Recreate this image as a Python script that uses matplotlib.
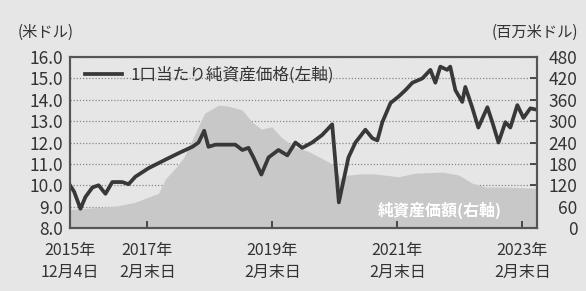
import matplotlib
matplotlib.use("Agg")
import matplotlib.pyplot as plt
import numpy as np
import pandas as pd

plt.rcParams['font.family'] = ['Noto Sans CJK JP', 'DejaVu Sans']

# 1口当たり純資産価格 (米ドル, 左軸)
price_dates = [
    "2015-12-04", "2015-12-28", "2016-02-03", "2016-03-03", "2016-04-13", "2016-05-19",
    "2016-06-28", "2016-08-07", "2016-10-04", "2016-11-10", "2016-12-20", "2017-03-07",
    "2017-06-14", "2017-08-29", "2017-11-18", "2017-12-24", "2018-01-26", "2018-02-20",
    "2018-04-02", "2018-05-30", "2018-07-27", "2018-09-06", "2018-10-12", "2018-11-10",
    "2018-12-26", "2019-02-06", "2019-04-05", "2019-05-27", "2019-07-13", "2019-08-22",
    "2019-10-19", "2019-12-16", "2020-02-13", "2020-03-23", "2020-05-18", "2020-06-28",
    "2020-08-25", "2020-10-05", "2020-11-03", "2020-12-02", "2021-01-19", "2021-03-07",
    "2021-04-16", "2021-05-27", "2021-07-24", "2021-09-09", "2021-10-08", "2021-11-06",
    "2021-12-16", "2022-01-03", "2022-02-02", "2022-03-14", "2022-04-01", "2022-05-11",
    "2022-06-16", "2022-08-08", "2022-09-06", "2022-10-12", "2022-11-21", "2022-12-20",
    "2023-01-30", "2023-03-07", "2023-04-16", "2023-05-15",
]
price_vals = [
    10.0, 9.7, 8.9, 9.45, 9.9, 10.0,
    9.6, 10.15, 10.15, 10.05, 10.4, 10.8,
    11.2, 11.5, 11.8, 12.0, 12.55, 11.8,
    11.9, 11.9, 11.9, 11.65, 11.75, 11.3,
    10.5, 11.3, 11.65, 11.4, 12.0, 11.75,
    12.0, 12.35, 12.85, 9.2, 11.3, 12.0,
    12.6, 12.2, 12.1, 12.95, 13.85, 14.15,
    14.45, 14.8, 15.0, 15.4, 14.8, 15.55,
    15.4, 15.55, 14.45, 13.9, 14.6, 13.65,
    12.7, 13.65, 12.95, 12.0, 12.95, 12.7,
    13.75, 13.15, 13.6, 13.55,
]

# 純資産価額 (百万米ドル, 右軸)
asset_dates = [
    "2015-12-04", "2016-05-24", "2016-09-04", "2016-12-18", "2017-05-05", "2017-06-14",
    "2017-08-18", "2017-10-01", "2017-12-05", "2018-01-28", "2018-04-20", "2018-06-17",
    "2018-09-06", "2018-11-05", "2018-12-26", "2019-02-25", "2019-04-25", "2019-07-13",
    "2019-09-27", "2019-12-16", "2020-03-02", "2020-03-30", "2020-05-10", "2020-07-26",
    "2020-10-12", "2021-03-07", "2021-06-14", "2021-11-17", "2022-02-20", "2022-05-11",
    "2022-07-27", "2022-11-21", "2023-04-26", "2023-05-25",
]
asset_vals = [
    52, 58, 62, 72, 98, 138,
    172, 200, 266, 322, 345, 342,
    331, 296, 278, 284, 253, 227,
    215, 195, 175, 138, 148, 152,
    152, 144, 154, 157, 149, 126,
    115, 115, 112, 112,
]

tick_dates = ["2015-12-04", "2017-02-28", "2019-02-28", "2021-02-28", "2023-02-28"]
tick_labels = ["2015年\n12月4日", "2017年\n2月末日", "2019年\n2月末日", "2021年\n2月末日", "2023年\n2月末日"]

left_ticks = [8, 9, 10, 11, 12, 13, 14, 15, 16]
right_ticks = [0, 60, 120, 180, 240, 300, 360, 420, 480]

txt = '#333333'
fig = plt.figure(figsize=(5.86, 2.91), dpi=100)
fig.patch.set_facecolor('#e6e6e6')
ax = fig.add_axes([0.1195, 0.2165, 0.7969, 0.5875])
ax2 = ax.twinx()
ax.set_zorder(2)
ax2.set_zorder(1)
ax.patch.set_visible(False)
ax2.patch.set_facecolor('white')

pdates = pd.to_datetime(price_dates)
adates = pd.to_datetime(asset_dates)

# 面グラフ(右軸)
ax2.set_axisbelow(True)
ax2.grid(axis='y', color='#888888', linestyle=(0, (1, 1.5)), linewidth=0.9)
ax2.fill_between(adates, asset_vals, 0, color='#c8c8c8', linewidth=0, zorder=2)
ax2.text(0.792, 0.105, '純資産価額(右軸)', transform=ax2.transAxes, color='white',
         fontsize=11.5, fontweight='bold', ha='center', va='center', zorder=3)

# 折れ線(左軸)
ax.plot(pdates, price_vals, color='#383838', linewidth=2.7, label='1口当たり純資産価格(左軸)')

ax.set_xlim(pd.Timestamp("2015-12-04"), pd.Timestamp("2023-05-25"))
ax.set_ylim(8, 16)
ax2.set_ylim(0, 480)
ax.set_yticks(left_ticks)
ax.set_yticklabels([f"{v:.1f}" for v in left_ticks])
ax2.set_yticks(right_ticks)
ax2.set_yticklabels([str(v) for v in right_ticks])
ax.set_xticks(pd.to_datetime(tick_dates))
ax.set_xticklabels(tick_labels, linespacing=1.35)

ax.tick_params(axis='y', direction='in', length=0, pad=5, labelsize=12.5, colors=txt)
ax.tick_params(axis='x', direction='in', length=5, width=1.2, pad=10, labelsize=11.5,
               colors=txt)
ax2.tick_params(axis='y', direction='in', length=5, width=1.2, pad=29, labelsize=12.5,
                colors=txt)
for lab in ax2.get_yticklabels():
    lab.set_ha('right')

for a in (ax, ax2):
    for s in a.spines.values():
        s.set_color('#555555')
        s.set_linewidth(1.5)

ax.legend(loc='upper left', bbox_to_anchor=(0.0, 1.03), frameon=False, fontsize=12,
          handlelength=2.2, handletextpad=0.5, labelcolor=txt)

fig.text(0.03, 0.89, '(米ドル)', fontsize=11, color=txt, ha='left', va='center')
fig.text(0.986, 0.89, '(百万米ドル)', fontsize=11, color=txt, ha='right', va='center')

fig.savefig('out.png', dpi=100, facecolor=fig.get_facecolor())
